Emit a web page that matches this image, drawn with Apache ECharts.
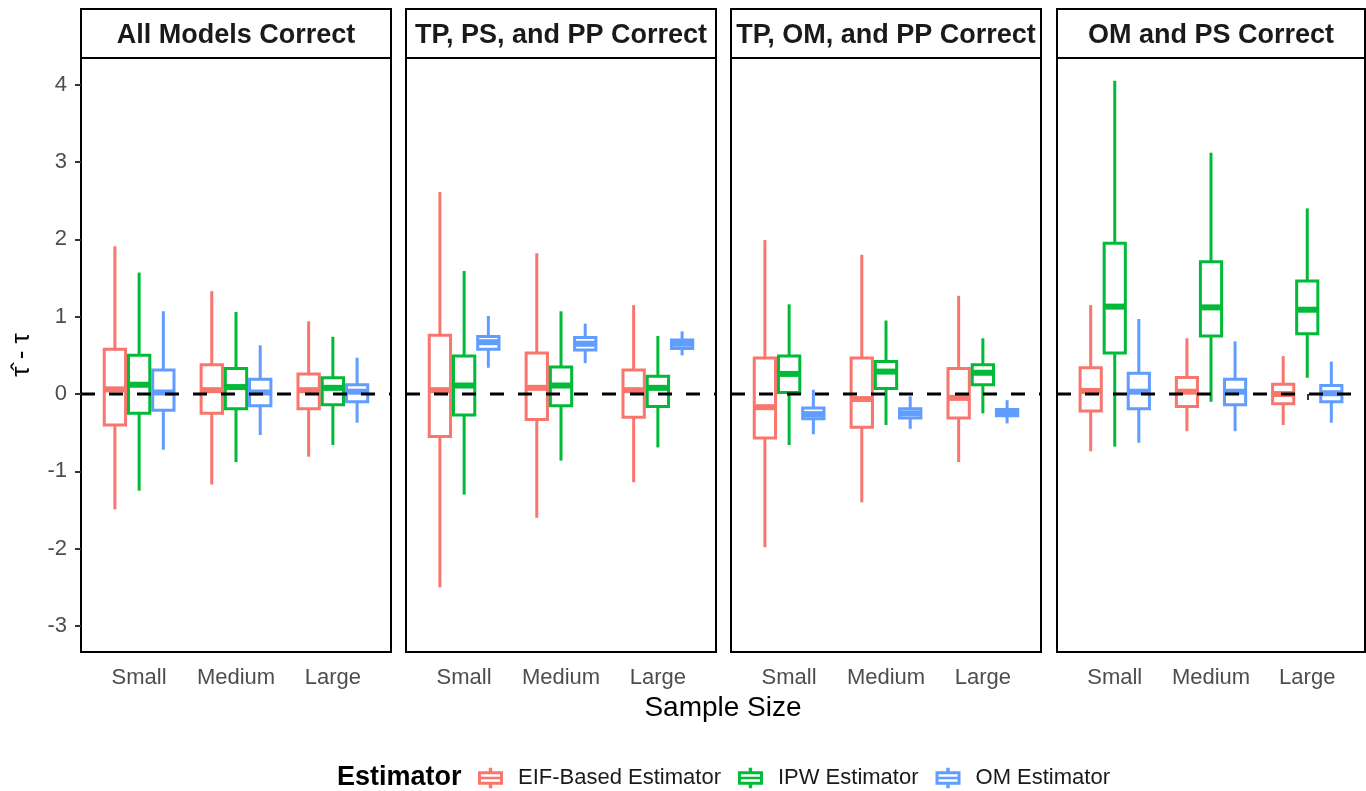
<!DOCTYPE html>
<html><head><meta charset="utf-8">
<script src="https://cdn.jsdelivr.net/npm/echarts@6/dist/echarts.min.js"></script>
<style>html,body{margin:0;padding:0;background:#fff}#c{width:1366px;height:791px}</style>
</head><body><div id="c"></div>
<script>
// ---------- data ----------
const panels = ['All Models Correct', 'TP, PS, and PP Correct', 'TP, OM, and PP Correct', 'OM and PS Correct'];
const sampleSizes = ['Small', 'Medium', 'Large'];
const estimators = ['EIF-Based Estimator', 'IPW Estimator', 'OM Estimator'];
const yTicks = [-3, -2, -1, 0, 1, 2, 3, 4];
const xTicks = [1, 2, 3];
// each row: [min, q1, median, q3, max] for Small, Medium, Large
const allCorrectEIF = [[-1.49, -0.40, 0.06, 0.58, 1.91], [-1.17, -0.25, 0.05, 0.38, 1.33], [-0.81, -0.19, 0.05, 0.26, 0.94]];
const allCorrectIPW = [[-1.25, -0.25, 0.12, 0.50, 1.57], [-0.88, -0.19, 0.09, 0.33, 1.06], [-0.66, -0.14, 0.08, 0.21, 0.74]];
const allCorrectOM  = [[-0.72, -0.21, 0.02, 0.31, 1.07], [-0.53, -0.15, 0.02, 0.19, 0.63], [-0.37, -0.10, 0.03, 0.12, 0.47]];
const tpPsPpEIF = [[-2.50, -0.55, 0.05, 0.76, 2.61], [-1.60, -0.33, 0.08, 0.53, 1.82], [-1.14, -0.30, 0.05, 0.31, 1.15]];
const tpPsPpIPW = [[-1.30, -0.27, 0.11, 0.49, 1.59], [-0.86, -0.15, 0.11, 0.35, 1.07], [-0.69, -0.16, 0.08, 0.23, 0.75]];
const tpPsPpOM  = [[0.34, 0.58, 0.67, 0.745, 1.01], [0.40, 0.57, 0.65, 0.73, 0.91], [0.50, 0.59, 0.65, 0.70, 0.81]];
const tpOmPpEIF = [[-1.98, -0.57, -0.17, 0.465, 1.99], [-1.40, -0.43, -0.065, 0.465, 1.80], [-0.88, -0.31, -0.05, 0.33, 1.27]];
const tpOmPpIPW = [[-0.66, 0.02, 0.26, 0.49, 1.16], [-0.40, 0.07, 0.29, 0.42, 0.95], [-0.25, 0.12, 0.275, 0.38, 0.72]];
const tpOmPpOM  = [[-0.52, -0.32, -0.26, -0.18, 0.056], [-0.45, -0.31, -0.25, -0.19, -0.03], [-0.38, -0.28, -0.24, -0.20, -0.08]];
const omPsEIF = [[-0.74, -0.22, 0.04, 0.34, 1.15], [-0.48, -0.16, 0.03, 0.215, 0.72], [-0.40, -0.125, 0.00, 0.125, 0.49]];
const omPsIPW = [[-0.68, 0.53, 1.13, 1.95, 4.05], [-0.10, 0.75, 1.12, 1.71, 3.12], [0.21, 0.78, 1.09, 1.46, 2.40]];
const omPsOM  = [[-0.63, -0.19, 0.03, 0.27, 0.97], [-0.48, -0.14, 0.03, 0.19, 0.68], [-0.37, -0.10, 0.01, 0.11, 0.42]];
const panelData = [
  [allCorrectEIF, allCorrectIPW, allCorrectOM],
  [tpPsPpEIF, tpPsPpIPW, tpPsPpOM],
  [tpOmPpEIF, tpOmPpIPW, tpOmPpOM],
  [omPsEIF, omPsIPW, omPsOM]
];
const refLine = [[0.4, 0], [3.6, 0]];

// ---------- styling / layout ----------
const colors = ['#F8766D', '#00BA38', '#619CFF'];
const FONT = '"Liberation Sans", Arial, sans-serif';
const gridLefts = [81, 406, 731, 1057];
const gridWidths = [310, 310, 310, 308];
const GRID_TOP = 58, GRID_H = 594;
const DODGE = [-0.25, 0, 0.25];
const BOX_W = 0.22;

function boxRenderer(offset, color) {
  return function (params, api) {
    const x = api.value(0) + offset;
    const pMin = api.coord([x, api.value(1)]);
    const pQ1 = api.coord([x, api.value(2)]);
    const pMed = api.coord([x, api.value(3)]);
    const pQ3 = api.coord([x, api.value(4)]);
    const pMax = api.coord([x, api.value(5)]);
    const left = api.coord([x - BOX_W / 2, 0])[0];
    const right = api.coord([x + BOX_W / 2, 0])[0];
    return {
      type: 'group',
      children: [
        { type: 'line', shape: { x1: pMax[0], y1: pMax[1], x2: pQ3[0], y2: pQ3[1] }, style: { stroke: color, lineWidth: 3 } },
        { type: 'line', shape: { x1: pQ1[0], y1: pQ1[1], x2: pMin[0], y2: pMin[1] }, style: { stroke: color, lineWidth: 3 } },
        { type: 'rect', shape: { x: left, y: pQ3[1], width: right - left, height: pQ1[1] - pQ3[1] }, style: { fill: '#fff', stroke: color, lineWidth: 3 } },
        { type: 'line', shape: { x1: left, y1: pMed[1], x2: right, y2: pMed[1] }, style: { stroke: color, lineWidth: 6 } }
      ]
    };
  };
}

const grids = [], xAxes = [], yAxes = [], series = [], graphics = [];
panels.forEach((title, p) => {
  grids.push({ left: gridLefts[p], top: GRID_TOP, width: gridWidths[p], height: GRID_H, show: true, borderColor: '#000', borderWidth: 2, backgroundColor: '#fff', containLabel: false });
  xAxes.push({
    gridIndex: p, type: 'value', min: 0.4, max: 3.6,
    axisLine: { show: false }, splitLine: { show: false },
    axisTick: { show: true, customValues: xTicks, length: 6, lineStyle: { color: '#333', width: 2 } },
    axisLabel: { show: true, customValues: xTicks, formatter: v => sampleSizes[Math.round(v) - 1], color: '#4D4D4D', fontSize: 22, fontFamily: FONT, margin: 15 }
  });
  yAxes.push({
    gridIndex: p, type: 'value', min: -3.335, max: 4.344,
    axisLine: { show: false }, splitLine: { show: false },
    axisTick: { show: p === 0, customValues: yTicks, length: 6, lineStyle: { color: '#333', width: 2 } },
    axisLabel: { show: p === 0, customValues: yTicks, color: '#4D4D4D', fontSize: 22, fontFamily: FONT, margin: 14 },
    name: p === 0 ? 'τ\u0302 - τ' : '', nameLocation: 'middle', nameRotate: 90, nameGap: 46,
    nameTextStyle: { fontSize: 26, color: '#000', fontFamily: FONT }
  });
  estimators.forEach((est, e) => {
    series.push({
      name: est, type: 'custom', xAxisIndex: p, yAxisIndex: p,
      itemStyle: { color: colors[e] },
      renderItem: boxRenderer(DODGE[e], colors[e]),
      encode: { x: 0, y: [1, 2, 3, 4, 5] },
      data: panelData[p][e].map((d, i) => [xTicks[i]].concat(d)),
      z: 2
    });
  });
  series.push({
    type: 'line', xAxisIndex: p, yAxisIndex: p, data: refLine, symbol: 'none', silent: true,
    lineStyle: { color: '#000', width: 3, type: [14, 14] }, z: 5
  });
  graphics.push({ type: 'rect', shape: { x: gridLefts[p], y: 9, width: gridWidths[p], height: 49 }, style: { fill: '#fff', stroke: '#000', lineWidth: 2 } });
  graphics.push({ type: 'text', x: gridLefts[p] + gridWidths[p] / 2, y: 36, style: { text: title, align: 'center', verticalAlign: 'middle', fontSize: 27, fontWeight: 'bold', fill: '#1A1A1A', fontFamily: FONT } });
});
graphics.push({ type: 'text', x: 723, y: 708, style: { text: 'Sample Size', align: 'center', verticalAlign: 'middle', fontSize: 28, fill: '#000', fontFamily: FONT } });
graphics.push({ type: 'text', x: 337, y: 778, style: { text: 'Estimator', align: 'left', verticalAlign: 'middle', fontSize: 27, fontWeight: 'bold', fill: '#000', fontFamily: FONT } });

const keyIcon = 'path://M9.5 0H12.5V3H22V15H12.5V18H9.5V15H0V3H9.5Z M2.6 5.6V7.9H19.4V5.6Z M2.6 10.1V12.4H19.4V10.1Z';

const chart = echarts.init(document.getElementById('c'), null, { renderer: 'canvas' });
chart.setOption({
  animation: false,
  backgroundColor: '#fff',
  grid: grids, xAxis: xAxes, yAxis: yAxes, series: series,
  legend: {
    left: 478, top: 767, orient: 'horizontal', padding: 0,
    data: estimators.map(n => ({ name: n, icon: keyIcon })),
    itemWidth: 25, itemHeight: 24, itemGap: 17,
    textStyle: { fontSize: 22, color: '#1A1A1A', fontFamily: FONT, padding: [0, 0, 0, 10] },
    selectedMode: false
  },
  graphic: graphics
});
</script>
</body></html>
